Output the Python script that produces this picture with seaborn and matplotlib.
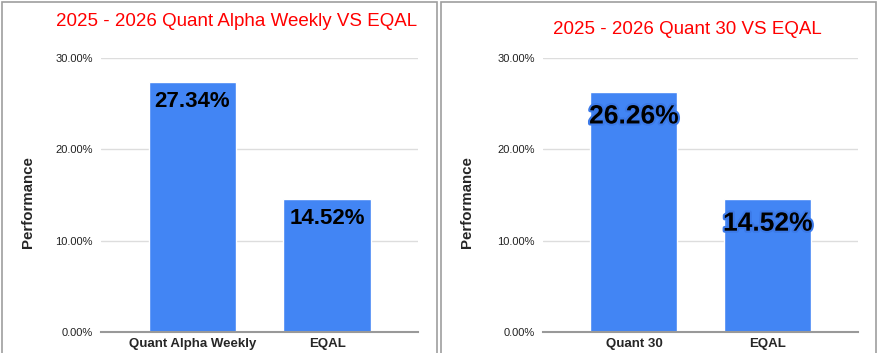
import matplotlib
matplotlib.use("Agg")
import matplotlib.pyplot as plt
import matplotlib.patheffects as pe
from matplotlib.patches import Rectangle
from matplotlib.ticker import FuncFormatter
import seaborn as sns
import pandas as pd

left_categories = ["Quant Alpha Weekly", "EQAL"]
left_values = [27.34, 14.52]
right_categories = ["Quant 30", "EQAL"]
right_values = [26.26, 14.52]
left_title = "2025 - 2026 Quant Alpha Weekly VS EQAL"
right_title = "2025 - 2026 Quant 30 VS EQAL"
y_ticks = [0, 10, 20, 30]
y_label = "Performance"

sns.set_theme(style="white")
plt.rcParams['font.family'] = ['Liberation Sans', 'DejaVu Sans']

W, H = 877, 353
fig = plt.figure(figsize=(W / 100, H / 100), dpi=100)
fig.patch.set_facecolor("white")

BAR = "#4285F4"

def px_rect(x0, y0, x1, y1):
    return [x0 / W, 1 - y1 / H, (x1 - x0) / W, (y1 - y0) / H]

# panel borders
for (x0, x1) in [(2, 437), (441, 876)]:
    fig.patches.append(Rectangle((x0 / W, -0.02), (x1 - x0) / W, 1 - 2 / H + 0.02,
                                 transform=fig.transFigure, fill=False,
                                 edgecolor="#9e9e9e", lw=1.2, zorder=0))

def panel(rect, cats, vals, title, title_xy, outline, ylab_x):
    ax = fig.add_axes(rect)
    df = pd.DataFrame({"cat": cats, "val": vals})
    sns.barplot(data=df, x="cat", y="val", color=BAR, saturation=1, width=0.65, ax=ax)
    ax.set_xlim(-0.68, 1.675)
    ax.set_ylim(0, 30)
    ax.set_yticks(y_ticks)
    ax.yaxis.set_major_formatter(FuncFormatter(lambda v, p: f"{v:.2f}%"))
    ax.grid(axis="y", color="#dddddd", lw=1)
    ax.set_axisbelow(True)
    for s in ["top", "right", "left"]:
        ax.spines[s].set_visible(False)
    ax.spines["bottom"].set_color("#999999")
    ax.spines["bottom"].set_linewidth(1.5)
    ax.tick_params(axis="y", length=0, labelsize=8, pad=6, labelcolor="#222222")
    ax.tick_params(axis="x", length=0, labelsize=9.5, pad=4)
    for t in ax.get_xticklabels():
        t.set_fontweight("bold")
    ax.set_xlabel("")
    ax.set_ylabel(y_label, fontsize=10.8, fontweight="bold")
    ax.yaxis.set_label_coords(ylab_x, 0.474)
    for i, v in enumerate(vals):
        kw = {}
        if outline:
            kw["path_effects"] = [pe.withStroke(linewidth=3, foreground="#3c7ae8")]
            fs, off = 19, -17.5
        else:
            fs, off = 16, -14
        ax.annotate(f"{v:.2f}%", xy=(i, v), xytext=(0, off), textcoords="offset points",
                    ha="center", va="center", fontsize=fs, fontweight="bold",
                    color="black", **kw)
    fig.text(title_xy[0] / W, 1 - title_xy[1] / H, title, color="#ff0000",
             fontsize=13.5, ha="center", va="center")
    return ax

panel(px_rect(101, 58, 418, 332), left_categories, left_values, left_title, (237, 22), False, -0.207)
panel(px_rect(543, 58, 858, 332), right_categories, right_values, right_title, (687, 29), True, -0.219)

fig.savefig("out.png", dpi=100)
